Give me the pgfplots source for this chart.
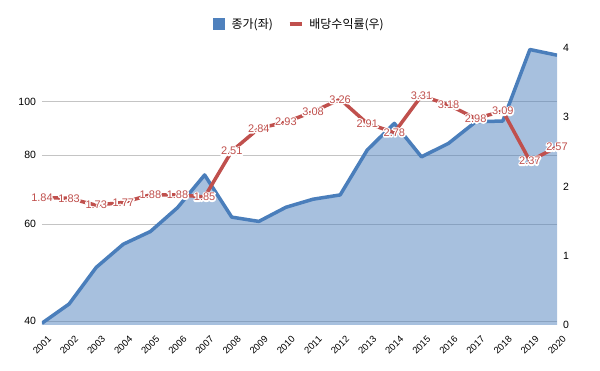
\documentclass[border=0pt]{standalone}
\usepackage{fontspec}
\setmainfont{Liberation Sans}
\newfontfamily\kr{Noto Sans CJK KR}
\usepackage{pgfplots}
\pgfplotsset{compat=1.18}
\usepackage{pgfplotstable}
\definecolor{cblue}{HTML}{4A7EBB}
\definecolor{cfill}{HTML}{4F81BD}
\definecolor{cred}{HTML}{C0504D}
\definecolor{cgrid}{HTML}{C4C4C4}
\newcommand\halo[1]{\leavevmode\rlap{\special{pdf:literal direct 1 Tr 2.8 w 1 j 1 1 1 RG}#1\special{pdf:literal direct 0 Tr}}#1}

\pgfplotstableread{
year price
2001 39.7
2002 43.0
2003 50.1
2004 55.2
2005 58.2
2006 64.3
2007 73.7
2008 61.8
2009 60.7
2010 64.4
2011 66.6
2012 67.8
2013 81.8
2014 91.4
2015 79.5
2016 84.1
2017 92.0
2018 92.3
2019 124.4
2020 121.5
}\pricetable

\pgfplotstableread{
year yield label
2001 1.84 1.84
2002 1.83 1.83
2003 1.73 1.73
2004 1.77 1.77
2005 1.88 1.88
2006 1.88 1.88
2007 1.85 1.85
2008 2.51 2.51
2009 2.84 2.84
2010 2.93 2.93
2011 3.08 3.08
2012 3.26 3.26
2013 2.91 2.91
2014 2.78 2.78
2015 3.31 3.31
2016 3.18 3.18
2017 2.98 2.98
2018 3.09 3.09
2019 2.37 2.37
2020 2.57 2.57
}\yieldtable

\begin{document}
\begin{tikzpicture}
\useasboundingbox (-42pt,-46pt) rectangle (558pt,325pt);
\begin{semilogyaxis}[
  scale only axis, width=515pt, height=277pt,
  xmin=2001, xmax=2020, ymin=39.4, ymax=125.2,
  xtick={2001,...,2020},
  xticklabel style={yshift=-20pt, rotate=45, anchor=center,
    font=\fontsize{9.5}{10}\selectfont, /pgf/number format/1000 sep={}},
  ytick={40,60,80,100}, yticklabels={40,60,80,100},
  yticklabel style={font=\fontsize{10.5}{12}\selectfont, xshift=-2.5pt},
  ymajorgrids, grid style={cgrid, line width=0.9pt},
  axis line style={draw=none}, major tick length=0pt,
  /pgf/number format/assume math mode=true,
]
\addplot[fill=cfill, fill opacity=0.5, draw=none] table[x=year,y=price]{\pricetable} \closedcycle;
\addplot[cblue, line width=3.5pt, line join=round] table[x=year,y=price]{\pricetable};
\end{semilogyaxis}
\begin{axis}[
  scale only axis, width=515pt, height=277pt,
  xmin=2001, xmax=2020, ymin=0, ymax=4,
  axis x line=none, axis y line*=right,
  axis line style={draw=none}, major tick length=0pt,
  ytick={0,1,2,3,4},
  yticklabel style={font=\fontsize{10.5}{12}\selectfont, xshift=2.5pt},
  clip=false,
  /pgf/number format/assume math mode=true,
  legend style={at={(0.5,1)}, anchor=center, yshift=24pt, draw=none, fill=none,
    legend columns=2, font=\kr\fontsize{12}{14}\selectfont,
    /tikz/every even column/.append style={column sep=13pt}},
]
\addlegendimage{legend image code/.code={\fill[cfill] (0pt,-5.5pt) rectangle (11pt,5.5pt); \path (16pt,0pt);}}
\addlegendentry{종가(좌)}
\addplot[cred, line width=3.5pt, line join=round,
  legend image code/.code={\draw[cred, line width=3.5pt] (0pt,0pt) -- (12pt,0pt); \path (16pt,0pt);},
  point meta=explicit symbolic,
  nodes near coords={\halo{\pgfplotspointmeta}},
  every node near coord/.append style={anchor=center, inner sep=0pt,
    text=cred, font=\fontsize{11}{12}\selectfont},
] table[x=year,y=yield,meta=label]{\yieldtable};
\addlegendentry{배당수익률(우)}
\end{axis}
\end{tikzpicture}
\end{document}
